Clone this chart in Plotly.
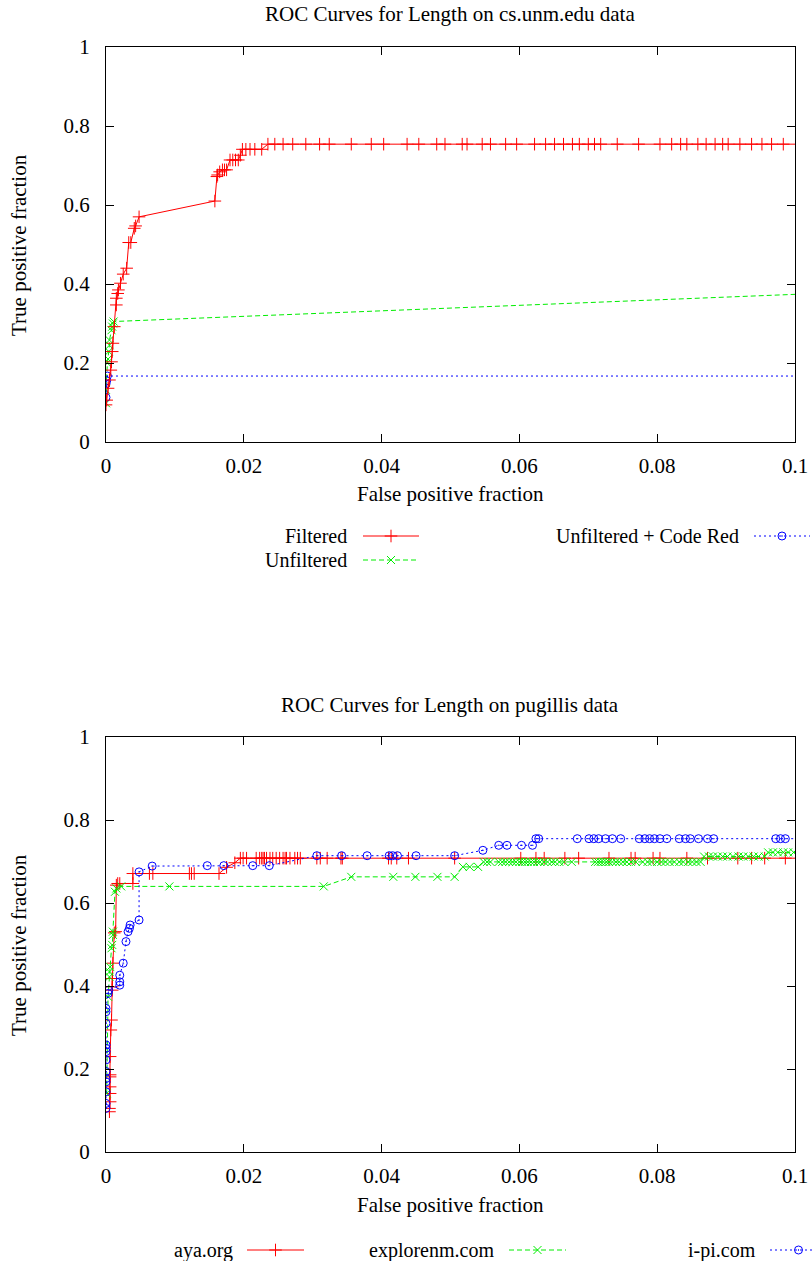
import plotly.graph_objects as go

# ---------------- data: cs.unm.edu ----------------
filtered_fp = [0.0000, 0.0001, 0.0003, 0.0005, 0.0007, 0.0008, 0.0009, 0.0010, 0.0012, 0.0015,
               0.0015, 0.0017, 0.0018, 0.0021, 0.0025, 0.0030, 0.0033, 0.0036, 0.0041, 0.0043,
               0.0048, 0.0158, 0.0161, 0.0162, 0.0165, 0.0169, 0.0172, 0.0175, 0.0180, 0.0184,
               0.0188, 0.0192, 0.0195, 0.0198, 0.0203, 0.0209, 0.0216, 0.0226, 0.0235, 0.0245,
               0.0257, 0.0271, 0.0290, 0.0310, 0.0324, 0.0356, 0.0385, 0.0403, 0.0437, 0.0454,
               0.0480, 0.0492, 0.0517, 0.0524, 0.0546, 0.0558, 0.0580, 0.0596, 0.0622, 0.0638,
               0.0651, 0.0664, 0.0677, 0.0687, 0.0700, 0.0709, 0.0718, 0.0742, 0.0773, 0.0804,
               0.0821, 0.0834, 0.0843, 0.0859, 0.0871, 0.0884, 0.0895, 0.0903, 0.0920, 0.0937,
               0.0952, 0.0966, 0.0983, 0.1050]
filtered_tp = [0.094, 0.106, 0.136, 0.157, 0.182, 0.203, 0.229, 0.250, 0.292, 0.347,
               0.364, 0.376, 0.385, 0.402, 0.425, 0.440, 0.505, 0.505, 0.541, 0.547,
               0.570, 0.610, 0.672, 0.676, 0.684, 0.689, 0.689, 0.689, 0.714, 0.714,
               0.714, 0.714, 0.726, 0.741, 0.741, 0.741, 0.741, 0.741, 0.754, 0.754,
               0.754, 0.754, 0.754, 0.754, 0.754, 0.754, 0.754, 0.754, 0.754, 0.754,
               0.754, 0.754, 0.754, 0.754, 0.754, 0.754, 0.754, 0.754, 0.754, 0.754,
               0.754, 0.754, 0.754, 0.754, 0.754, 0.754, 0.754, 0.754, 0.754, 0.754,
               0.754, 0.754, 0.754, 0.754, 0.754, 0.754, 0.754, 0.754, 0.754, 0.754,
               0.754, 0.754, 0.754, 0.754]

unfiltered_fp = [0.0000, 0.0000, 0.0002, 0.0003, 0.0004, 0.0005, 0.0005, 0.0008, 0.0009, 0.0010,
                 0.0011, 1.0000]
unfiltered_tp = [0.098, 0.132, 0.200, 0.210, 0.229, 0.245, 0.258, 0.283, 0.292, 0.300,
                 0.305, 1.000]

codered_fp = [0.0000, 0.0000, 0.0001, 0.0002, 0.2000]
codered_tp = [0.113, 0.147, 0.155, 0.167, 0.167]

# ---------------- data: pugillis ----------------
aya_fp = [0.0005, 0.0005, 0.0006, 0.0006, 0.0006, 0.0006, 0.0006, 0.0006, 0.0007, 0.0008,
          0.0009, 0.0009, 0.0009, 0.0010, 0.0012, 0.0014, 0.0015, 0.0017, 0.0020, 0.0039,
          0.0039, 0.0063, 0.0068, 0.0121, 0.0124, 0.0128, 0.0164, 0.0175, 0.0187, 0.0195,
          0.0199, 0.0204, 0.0218, 0.0223, 0.0226, 0.0228, 0.0230, 0.0233, 0.0238, 0.0242,
          0.0247, 0.0252, 0.0257, 0.0260, 0.0262, 0.0267, 0.0274, 0.0278, 0.0282, 0.0306,
          0.0311, 0.0321, 0.0341, 0.0343, 0.0410, 0.0414, 0.0422, 0.0439, 0.0506, 0.0602,
          0.0624, 0.0636, 0.0666, 0.0686, 0.0730, 0.0762, 0.0768, 0.0794, 0.0804, 0.0843,
          0.0873, 0.0917, 0.0937, 0.0956, 0.0986, 0.1200]
aya_tp = [0.097, 0.105, 0.121, 0.141, 0.157, 0.181, 0.186, 0.230, 0.294, 0.318,
          0.390, 0.398, 0.418, 0.455, 0.528, 0.531, 0.643, 0.647, 0.647, 0.647,
          0.671, 0.671, 0.671, 0.671, 0.671, 0.671, 0.671, 0.686, 0.697, 0.708,
          0.708, 0.708, 0.708, 0.708, 0.708, 0.708, 0.708, 0.708, 0.708, 0.708,
          0.708, 0.708, 0.708, 0.708, 0.708, 0.708, 0.708, 0.708, 0.708, 0.708,
          0.708, 0.708, 0.708, 0.708, 0.708, 0.708, 0.708, 0.708, 0.708, 0.708,
          0.708, 0.708, 0.708, 0.708, 0.708, 0.708, 0.708, 0.708, 0.708, 0.708,
          0.708, 0.708, 0.708, 0.708, 0.708, 0.708]

explorenm_fp = [0.0001, 0.0003, 0.0005, 0.0005, 0.0006, 0.0008, 0.0009, 0.0010, 0.0010, 0.0013,
                0.0015, 0.0022, 0.0092, 0.0316, 0.0356, 0.0417, 0.0449, 0.0481, 0.0506, 0.0518,
                0.0528, 0.0540, 0.0548, 0.0553, 0.0558, 0.0570, 0.0575, 0.0580, 0.0585, 0.0590,
                0.0595, 0.0600, 0.0604, 0.0608, 0.0612, 0.0617, 0.0621, 0.0626, 0.0630, 0.0636,
                0.0641, 0.0647, 0.0652, 0.0658, 0.0665, 0.0676, 0.0710, 0.0714, 0.0718, 0.0722,
                0.0726, 0.0730, 0.0735, 0.0740, 0.0745, 0.0750, 0.0756, 0.0762, 0.0769, 0.0779,
                0.0786, 0.0792, 0.0800, 0.0806, 0.0812, 0.0818, 0.0825, 0.0832, 0.0838, 0.0845,
                0.0851, 0.0857, 0.0863, 0.0868, 0.0875, 0.0881, 0.0888, 0.0895, 0.0902, 0.0910,
                0.0918, 0.0925, 0.0932, 0.0940, 0.0947, 0.0956, 0.0961, 0.0968, 0.0975, 0.0983,
                0.0990, 0.0998, 0.1050]
explorenm_tp = [0.141, 0.374, 0.422, 0.434, 0.446, 0.491, 0.499, 0.523, 0.531, 0.627,
                0.635, 0.640, 0.640, 0.640, 0.663, 0.663, 0.663, 0.663, 0.663, 0.687,
                0.687, 0.687, 0.699, 0.699, 0.699, 0.699, 0.699, 0.699, 0.699, 0.699,
                0.699, 0.699, 0.699, 0.699, 0.699, 0.699, 0.699, 0.699, 0.699, 0.699,
                0.699, 0.699, 0.699, 0.699, 0.699, 0.699, 0.699, 0.699, 0.699, 0.699,
                0.699, 0.699, 0.699, 0.699, 0.699, 0.699, 0.699, 0.699, 0.699, 0.699,
                0.699, 0.699, 0.699, 0.699, 0.699, 0.699, 0.699, 0.699, 0.699, 0.699,
                0.699, 0.699, 0.699, 0.712, 0.712, 0.712, 0.712, 0.712, 0.712, 0.712,
                0.712, 0.712, 0.712, 0.712, 0.712, 0.712, 0.722, 0.722, 0.722, 0.722,
                0.722, 0.722, 0.722]

ipi_fp = [0.0000, 0.0000, 0.0000, 0.0000, 0.0000, 0.0000, 0.0000, 0.0000, 0.0000, 0.0000,
          0.0000, 0.0000, 0.0000, 0.0003, 0.0004, 0.0020, 0.0020, 0.0020, 0.0025, 0.0029,
          0.0032, 0.0034, 0.0035, 0.0048, 0.0048, 0.0067, 0.0147, 0.0171, 0.0213, 0.0237,
          0.0306, 0.0342, 0.0379, 0.0411, 0.0416, 0.0423, 0.0450, 0.0506, 0.0547, 0.0570,
          0.0582, 0.0603, 0.0619, 0.0624, 0.0628, 0.0684, 0.0701, 0.0708, 0.0715, 0.0725,
          0.0735, 0.0747, 0.0774, 0.0782, 0.0789, 0.0796, 0.0804, 0.0814, 0.0832, 0.0841,
          0.0848, 0.0860, 0.0873, 0.0882, 0.0972, 0.0979, 0.0986, 0.1200]
ipi_tp = [0.105, 0.117, 0.145, 0.169, 0.177, 0.194, 0.222, 0.242, 0.250, 0.258,
          0.310, 0.338, 0.346, 0.382, 0.390, 0.402, 0.410, 0.426, 0.455, 0.507,
          0.531, 0.539, 0.547, 0.559, 0.675, 0.689, 0.690, 0.690, 0.690, 0.690,
          0.714, 0.714, 0.714, 0.714, 0.714, 0.714, 0.714, 0.714, 0.727, 0.739,
          0.739, 0.739, 0.739, 0.755, 0.755, 0.755, 0.755, 0.755, 0.755, 0.755,
          0.755, 0.755, 0.755, 0.755, 0.755, 0.755, 0.755, 0.755, 0.755, 0.755,
          0.755, 0.755, 0.755, 0.755, 0.755, 0.755, 0.755, 0.755]

x_ticks = [0, 0.02, 0.04, 0.06, 0.08, 0.1]
x_tick_text = ["0", "0.02", "0.04", "0.06", "0.08", "0.1"]
y_ticks = [0, 0.2, 0.4, 0.6, 0.8, 1]
y_tick_text = ["0", "0.2", "0.4", "0.6", "0.8", "1"]

titles = ["ROC Curves for Length on cs.unm.edu data", "ROC Curves for Length on pugillis data"]
x_title = "False positive fraction"
y_title = "True positive fraction"

# ---------------- styling ----------------
W, H = 812, 1261
FONT = "Liberation Serif"
TXT = dict(family=FONT, size=21, color="black")
KEY_TXT = dict(family=FONT, size=20, color="black")
RED, GREEN, BLUE = "#ff0000", "#00ee00", "#0000ff"
STY = {
    "red": dict(color=RED, dash="solid", symbol="cross-thin", size=9),
    "green": dict(color=GREEN, dash="5px,3px", symbol="x-thin", size=8),
    "blue": dict(color=BLUE, dash="2px,3px", symbol="circle-open-dot", size=8),
}


def px_x(p):
    return p / W


def px_y(p):
    return 1 - p / H


def series(x, y, style, xa, ya):
    s = STY[style]
    return go.Scatter(
        x=x, y=y, mode="lines+markers", xaxis=xa, yaxis=ya, showlegend=False,
        line=dict(color=s["color"], width=1, dash=s["dash"]),
        marker=dict(symbol=s["symbol"], size=s["size"], color=s["color"],
                    line=dict(color=s["color"], width=1)),
        cliponaxis=True, hoverinfo="skip",
    )


fig = go.Figure()

# plot areas (pixel frame): left 106, right 795; top plot 47-442, bottom plot 737-1152
xdom = [px_x(106), px_x(795)]
ydom1 = [px_y(442), px_y(47)]
ydom2 = [px_y(1152), px_y(737)]

fig.add_trace(series(unfiltered_fp, unfiltered_tp, "green", "x", "y"))
fig.add_trace(series(codered_fp, codered_tp, "blue", "x", "y"))
fig.add_trace(series(filtered_fp, filtered_tp, "red", "x", "y"))

fig.add_trace(series(aya_fp, aya_tp, "red", "x2", "y2"))
fig.add_trace(series(explorenm_fp, explorenm_tp, "green", "x2", "y2"))
fig.add_trace(series(ipi_fp, ipi_tp, "blue", "x2", "y2"))

# legend keys, drawn on pixel-coordinate helper axes below each plot
key_rows = [
    # (axis x, axis y, label, style, text right edge, sample start, sample end, row y)
    ("x3", "y3", "Filtered", "red", 349, 363, 419, 536),
    ("x3", "y3", "Unfiltered", "green", 349, 363, 419, 560),
    ("x3", "y3", "Unfiltered + Code Red", "blue", 741, 754, 810, 536),
    ("x4", "y4", "aya.org", "red", 235, 247, 304, 1250),
    ("x4", "y4", "explorenm.com", "green", 496, 509, 566, 1250),
    ("x4", "y4", "i-pi.com", "blue", 758, 770, 827, 1250),
]
annotations = []
for xa, ya, label, style, tx, s0, s1, ry in key_rows:
    s = STY[style]
    fig.add_trace(go.Scatter(
        x=[s0, s1], y=[ry, ry], mode="lines", xaxis=xa, yaxis=ya, showlegend=False,
        line=dict(color=s["color"], width=1, dash=s["dash"]), hoverinfo="skip"))
    fig.add_trace(go.Scatter(
        x=[(s0 + s1) / 2], y=[ry], mode="markers", xaxis=xa, yaxis=ya, showlegend=False,
        marker=dict(symbol=s["symbol"], size=s["size"], color=s["color"],
                    line=dict(color=s["color"], width=1)),
        cliponaxis=False, hoverinfo="skip"))
    annotations.append(dict(
        x=tx, y=ry, xref=xa, yref=ya, text=label, showarrow=False,
        xanchor="right", yanchor="middle", font=KEY_TXT))

# titles and axis titles
for title, ty, xt_y, yt_y in [(titles[0], 14, 494, 245), (titles[1], 705, 1205, 945)]:
    annotations.append(dict(x=px_x(450), y=px_y(ty), xref="paper", yref="paper", text=title,
                            showarrow=False, xanchor="center", yanchor="middle", font=TXT))
    annotations.append(dict(x=px_x(450), y=px_y(xt_y), xref="paper", yref="paper", text=x_title,
                            showarrow=False, xanchor="center", yanchor="middle", font=TXT))
    annotations.append(dict(x=px_x(19), y=px_y(yt_y), xref="paper", yref="paper", text=y_title,
                            showarrow=False, xanchor="center", yanchor="middle", textangle=-90,
                            font=TXT))

axis_common = dict(
    showline=True, linecolor="black", linewidth=1, mirror="ticks",
    ticks="inside", ticklen=8, tickwidth=1, tickcolor="black",
    showgrid=False, zeroline=False, automargin=False,
    tickfont=TXT,
)
hidden = dict(visible=False, fixedrange=True, automargin=False, showgrid=False, zeroline=False)

fig.update_layout(
    template="none",
    width=W, height=H,
    margin=dict(l=0, r=0, t=0, b=0, pad=0, autoexpand=False),
    paper_bgcolor="white", plot_bgcolor="white",
    font=TXT,
    showlegend=False,
    xaxis=dict(domain=xdom, anchor="y", range=[0, 0.1], tickvals=x_ticks, ticktext=x_tick_text,
               ticklabelstandoff=5, **axis_common),
    yaxis=dict(domain=ydom1, anchor="x", range=[0, 1], tickvals=y_ticks, ticktext=y_tick_text,
               ticklabelstandoff=11, **axis_common),
    xaxis2=dict(domain=xdom, anchor="y2", range=[0, 0.1], tickvals=x_ticks, ticktext=x_tick_text,
                ticklabelstandoff=5, **axis_common),
    yaxis2=dict(domain=ydom2, anchor="x2", range=[0, 1], tickvals=y_ticks, ticktext=y_tick_text,
                ticklabelstandoff=11, **axis_common),
    xaxis3=dict(domain=[0, 1], anchor="y3", range=[0, W], **hidden),
    yaxis3=dict(domain=[px_y(580), px_y(520)], anchor="x3", range=[580, 520], **hidden),
    xaxis4=dict(domain=[0, 1], anchor="y4", range=[0, W], **hidden),
    yaxis4=dict(domain=[0, px_y(1232)], anchor="x4", range=[H, 1232], **hidden),
    annotations=annotations,
)

fig.write_html("out.html")
